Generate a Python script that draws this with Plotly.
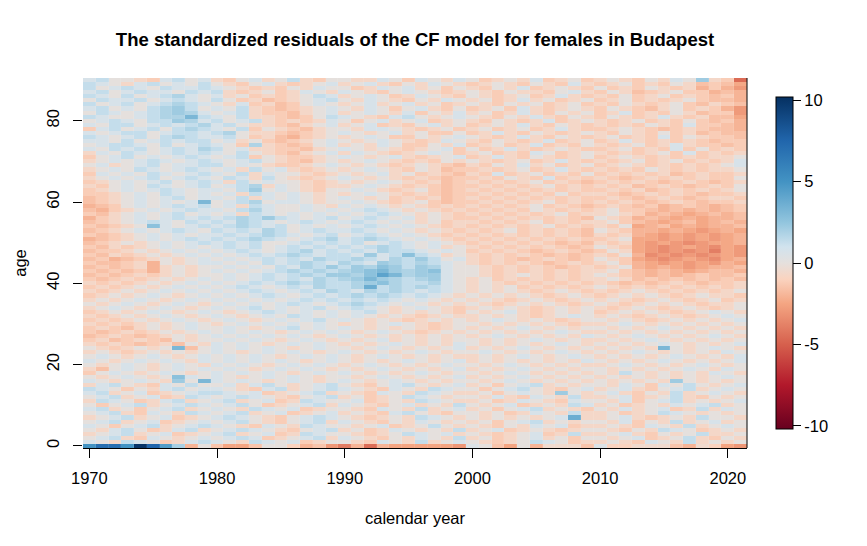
import plotly.graph_objects as go

# standardized residuals of the CF model, females, Budapest
years = list(range(1970, 2022))
ages = list(range(0, 91))

# letter code -> residual level
levels = {"D": -4.6, "E": -3.9, "F": -3.4, "G": -2.9, "H": -2.4, "I": -2.0,
          "J": -1.6, "K": -1.2, "L": -0.7, "M": 0, "N": 0.7, "O": 1.3,
          "P": 1.8, "Q": 2.2, "R": 2.7, "S": 3.2, "T": 3.7, "U": 4.2, "V": 5}

# rows listed from age 90 down to age 1, one letter per year, grouped by decade
resid_rows = [
    "NOMMLKNOMN LKMNLMOLKM MLLNMKNMLN MKLMLNKLMK LMLKMLNMQL KD",  # 90
    "ONMLNOMNMO MLKMNLKLMN LMNLKMLNML KLMLKMLKNL KLMKLKMLJK JH",
    "OMNONMONNO NMLKLKMLNM MKLNMNLMKM LKMLNKLMLK MKLKMLKLIK IG",
    "NOMNONNMON OLKLMKLNML NMLKMNMLKL MLKMLLKMNL KMLJKLMKKI JI",
    "ONMOMNOPNM NLMKLKLMON LMNMKLNMLK MLKLMKLNLK LKMKLMKLKJ KI",
    "MONNOMNONM OMKLJKLMNO MLNMLKMLNM LMKLNLMKLM KLMKLKLMKJ JI",  # 85
    "OMNOMNOPON MLNKLJKMNM LMNLMNLMKL MLKMLMKLMK LKMLKLMKJL KJ",
    "NOMNMOPQOM NMOLKJKLMN MLNMKMNLKM KLMKNLKLML KMLKJLMKLK IG",
    "MONMNOPQPN MNOLKKJLMN LMNMLNKMLN LMKLNLKMLM KLNKLKMLJK KG",
    "ONMMNOPPSO NMOLLKJKMO NMLKNOMLMN MLKMLNLKML KMLKLNLKLJ JH",
    "MNONMOOQPN OMNOLKLKLN MKMNLMNKLM LKMLKLNKLM LKLMKLKMKJ KI",  # 80
    "NMOOMNONOP NOMLLKJLMN LMNKLKMNLM KLMLNLKMLK LKLKMLKNKK JI",
    "KNOMNOMOPO NMOKMLKJLM MLNNMLKLMK LMKLMKLNLK KLMLKJKLKJ JI",
    "NMNOOMNOON OPMLLKJKLM NMLMNLMKKM KLNLKMLKLM LKMLKMKLJK JJ",
    "ONMNOMOPON NOMKLJIKLM LMNMKKMLMN MLKLNLKMLK LMKLKNKMLK KJ",
    "NNMOMNONOO MNLMKJKLMN MLMNMLKLNM LKMLKLNKLM KLNLKLKLKJ KK",  # 75
    "MNOONMOMNO NMKPLKJKMN LMLNMKKMLN KLMKLNKLKM LKLMKLNLKK JK",
    "NMONOMNONP OMNLLKKJLM NMLMLKLMNK MKLNLKLMLK KLMKLKNKMK LK",
    "LNMONMNONO NMOMLKJLMN LNMLKLMNMK LMKLKNMKLM LKLKLMKNKL KL",
    "KMNOMNMNON MNOKMLKKLM NMLMNLKLMN KLNLKMLKLM KLMLKLKLKL LM",
    "LMNMNONMNO NMNOMLKJLM LMNMLKLKML MLKLMKLNLK LKLMKLMKLK LN",  # 70
    "MNLMNOMNNO OMNMLKKLMN MLMLKLMLKJ LKMLNLMKLM KLMLKLKLKL MN",
    "LMNMONMNON MNLOMNLKLM LMNMLKMLJK KLKLMKLNLK LKLKMLKLKL LM",
    "KNMNMONMNO NMOLNMMLKL MLMNLMKLKJ LKNKLMKLKM KLKLKLJKLK KL",
    "LMNMNOMNON MONLOMLKLM NMLMLKLKJK KLKMLKNKLK LKJKLKLKLK KM",
    "KLMNMNOMNO NLOMNMMLKL MLMNMLKLJK LKLKLMKLKJ KLKLKJKLKJ KL",  # 65
    "LKMNMONMNO MNOPLNMLKL LMNMLKLKJK KLKLKLMKLK LKLJKLKJKL KM",
    "KLMNMNONMN NMOQMNMLKM MNMLKLMKJK LKLKLKLKLK KLKLJKLKLK LM",
    "KKLMNMONMN MNLONMNMLM LMNMLKLKJK KLKLKLKMKL LKJKLKLKJK KL",
    "JKLMNMNOMN NMOLNMNMLM NMLMKLKLJK LKLKLKLKLK KLKJKLKJKL LK",
    "JKLMNMNMNS MNOPMNNMLM MNMLKLMKJK KLKLKLMKLK LKLKJKLKJK KL",  # 60
    "IJKMNMNONO MNLONMMNML NMNMLMLKLK LKLKLMKLKJ KLKJKIJKJI JK",
    "JIKLMNMNON NMOPNMMNMN MNONMLMLKL KLKLKMLKLK LMKKJIJIJI JK",
    "KJLMNMNOMN MNLONMNMNM NMNONMLMLK LKLKLKLMKL LMLKIJIHIJ IJ",
    "IKLMNMNONO NOPOQONMNO MNONMNLMLK KLKLKLKLKJ MLKIJIHIHI IJ",
    "JKLMNONMON ONPONMNONM NONMNMLMKL LKLKLMKLKL LMKJIHIJHI JI",  # 55
    "KJKLMRNMNO NOPONOMNMN MNONMNMLKL KLKLKLMKLK LKMHIJHIHI IJ",
    "JKLMNMNONM ONONPOMNON NONMNMLMLK LKLMKLKLKJ MLKIIHIHGH IH",
    "KJKLMNMNMN NONOPONMNO MNONMNMLKL KLKLKLKLKJ LKLIHGHGHG HI",
    "IJKLMNMNON ONOPONMNOP NOPONMNMLK LKLKLKLKLK KLMHHGHGHG HI",
    "JKLMLMNMNO NONOMMNONO NOMNONMNML KLKLKLKJKJ LKLHGHGFGH HI",  # 50
    "KJLKLMNMNM NONOMNONON ONOPONMNLM LKLKLKLKJK MLKHGFGHGF HG",
    "JKKLMLMNMN MNONMNOPNO NONPOONMNM KLKLKJKLKJ KMLHGFGFGE HG",
    "KJLKLMLMNM NMNONOPONO ONQNORONLM LKLKLKJKJK LKMIFGFGFG HG",
    "JKIJKLMLMN MNMNONONPO OPONPOQOMN LKLKJKLKJK MLKHGFGHGF HI",
    "KJJKLIMLMN NMNMONOPON PONQPOPONM LKLKLKJKLK LMKIHGHGHG IH",  # 45
    "JKJKLILMLM MNMNMONPOQ OQPRQOQPNM MLKLKLKJKL KLMIHIHGHI IJ",
    "KJKJKILMLM NMNMNOPOPO PQRSQPQRNM MLKLKLKLKL LMKJIJIHIJ JI",
    "JKJKLKLMLM MNMNONOPOQ QPRUSPQQNM MLKLMLKLKL MLKJIJIJKJ JK",
    "KJKLKLMLMN MNMNONONPO PQSQPOPQNM LMKLKLKLKL LMLJKJKJKJ KJ",
    "LKLKLMLMNM NMNONOPOPO OPQRPOOPNM LMLKLKLKLK LKJKJKLKJK KL",  # 40
    "KLKLMLMNMN MNONMNONPO OPTOPOPONM LMLMKLKLKL MLKLKLKLKL KL",
    "LKLMLMNMNM NMNONMNONP ONPOPONONM LMLMLKLMLK LKLMLKLKLK LM",
    "KLMLMNMLMN MNMNONMNON OPOPONONML MLMLMLKLML KLMLMLKLML LK",
    "LMLMNMLMNM NMNMNMNONO NONONMNMLM LMLKLMLKLM LMLKLMLKLM KL",
    "MLMNMLMNML MNMNMNONMN OPONMNMLML MLKLMLMLKL MLKLMLMLKL LM",  # 35
    "LMNMLMNMLM NMNOMNMNOM NONMLMNMLK LMLMLKLMLM LKLMLKLMLK LM",
    "KLMLMNMLMN MLMNONMNMN MNOMLMLMLK MLMNLKLMLM KLMLMLKLMN ML",
    "LKLMLMNMLM NMLMNMONMN MNMLMLKLML LMLMLKLMNM LMLKLMLKLM NM",
    "KLKLMLMNML MNMLMNMNOM NMLMLKLMLM LMNMLMLKLM MLMLKLMLML MN",
    "LKLKLMLMNM LMNMNMNMNM LMLMNMLKLM MLMLMLMLKL LMNMLMLMLM LM",  # 30
    "KLKJLMLMNM MNMLMNOMNM NMLMLMLKLM LMLMNMLMLM MLMLMNMLML ML",
    "KJKLKLMLMN MNMNMLMNMN MLMNMLKLML MLMLMLMNML LMLMLMLMLM LM",
    "JKLKJKLMLM NMNMNMNMLM NMLMLMLMLM LMNMLMLMLN MLMNMLMLMN ML",
    "KLJKLKJMLM MNMNMLMNML MLMNLMLMLM MLMLMNMLML LMLMNMLMLM LM",
    "LKLKJKLJML NMNMLMNMNM LMLMNMLMLN MLMLMLMNML MLMLMNMLML MN",  # 25
    "MLKLMLMSJM NMNMNMLMNM MLMNMLMLMN LMLMNMLMLM LMLMLSMLMN ML",
    "LMLKLMLMLM NMLMNMNMLM NMLMLMNMLM MNMLMLMNML MLMNMLMLML NM",
    "MNMLMNMLMN MNMNMLMNMN MLMNMLMLML LMLMNMLMNM LMLMLMNMLM LN",
    "NMLMNMNMLN MNMNMNMLMN MLMLMNMLMN LMLMLMLMLN MLMLMNMLML MN",
    "MLMNMLMNML NMNMLMNMNM LMNMLMLMNM MLMNMLMLML LMNMLMLMNM LM",  # 20
    "LJMNMLMNMN MNMLMNMNML MLMNMLMLMN LMLMNMLMLM MLMLMLMNML NM",
    "KMNMLMNMLM NMNMNMLMNM NMLMLMNMLM MLMNMLMLML MLOMLMLMLN ML",
    "MLMNMLMRNM NMLMNMNMLM MLMNMLMLMN LMLMNMLMLM LMLMLMLMLM NM",
    "NMLMNMLQMS NMNMLMNMLM NMLMNMLMLM MLMNMLMLML MLMLMLQMLM LM",
    "LNOMLKNMOM MNLNOMLMNO MLKMNOMLMN LMKMNOLMLM MLNMKNMOML MN",  # 15
    "ONMKMLNOMN NMLKNOLMNO NMLKNMLONM MKMNOMLKMN LMNLKMNOLM NM",
    "NOLMNKLMNO ONMNKLMNOL MLKNMLONML LMKMNMLQML MNLKMLOLMN ML",
    "MNOLMNKLON MNONMLKMNO LMKLMONMLM MLNLKNMLOL LMNKLMOLKM LM",
    "LONMKLNOLM NOLMNKLONM MNKLMLONML LMKLNMLKNM MLNKMNOLML MN",
    "MKMNOLMNON MNOMKLMNOL NMLKMNLMLO MLMNKLMLON LMKLMLNMNO LM",  # 10
    "NOLMKMNOLM NMLONMNKLM MLKNMLOLMN LMKMNOLMLK MLNLMNKLOL NM",
    "MNOLKNMLON MNOLMNKLMN LMLKNOMLKM MLMKLNMLOL LMKLMONMLM LM",
    "LMNOLMNKLM NONMLKMNON MLKLMLONML MLMLMLMNTL LMNLKLMLOM ML",
    "MNOLMNKLMN MNOMLKMNOL NMLKMLNMLM LMKMNOLMLM MLNKMLOLMN LM",
    "NMKMNOLMNO NMLKNMLONM MLMNKLMOML MLKMLNMNKL LMLKNMLOLM NM",  # 5
    "MLNOMKLNOL MNONMLKMNO LMKLNMLMLO LMNKLMLKLM MLKMLONMKL ML",
    "LMNOLMNKLM NOLMNKLONM MLKLMONMNL MLKLMNKLOL LMNLKMLMOL LM",
    "MNOLKNMLMN MNONKLMNOL NMLKMLNMLO LMKLMNLMKM MLMNKLMOLK ML",
    "NMLONMKLNO NMLONMNKLM MLKNMLOLMN MLKLMONMKL LMLKNMLOLM LM",  # 1
]

# age 0 row, read separately (beyond the letter scale)
age0_row = [5, 7, 7, 5, 10, 7.5, 4.5, 2, -2, 0,
            -1.5, -2.5, -2.5, -1.5, 0, 0, -1, -2, -1.5, -3,
            -4, -2, -4.5, -2, -2.5, -2.5, -2.5, -2.5, -2.5, -3,
            0.5, 0, -1.5, -2.5, 0, -2, -0.5, -0.5, -0.5, -1.5,
            0.5, -1, -1, -0.5, -0.5, -0.5, -1.5, -2, -0.5, -1,
            -2.5, -3]

x_ticks = [1970, 1980, 1990, 2000, 2010, 2020]
y_ticks = [0, 20, 40, 60, 80]
cbar_ticks = [-10, -5, 0, 5, 10]


def decode(row):
    row = row.replace(" ", "")
    assert len(row) == len(years), (row, len(row))
    return [levels[c] for c in row]


z = [age0_row] + [decode(r) for r in reversed(resid_rows)]

zlim = 10.2
stops = [(-zlim, "#67001F"), (-7.5, "#B2182B"), (-5, "#D6604D"),
         (-2.5, "#F4A582"), (-1, "#FAD3BF"), (0, "#E5E0DD"),
         (1, "#D1E3EE"), (2.5, "#92C5DE"), (5, "#4393C3"),
         (7.5, "#2166AC"), (zlim, "#053061")]
colorscale = [[(v + zlim) / (2 * zlim), c] for v, c in stops]

fig = go.Figure()
fig.add_trace(go.Heatmap(
    x=years, y=ages, z=z,
    zmin=-zlim, zmax=zlim, zsmooth=False,
    xgap=0.1,  # forces the per-cell drawing, keeps cells crisp
    colorscale=colorscale,
    colorbar=dict(
        x=1.043, xanchor="left", xpad=0, y=0.5, yanchor="middle", ypad=0,
        thickness=17, len=332, lenmode="pixels",
        outlinecolor="black", outlinewidth=1,
        tickvals=cbar_ticks, ticktext=[str(t) for t in cbar_ticks],
        ticks="outside", ticklen=8, tickcolor="black",
        tickfont=dict(size=16.5, color="black"),
    ),
))

font = "Liberation Sans, Arial, sans-serif"
# page body adds an 8px offset, so the figure is 8px smaller than the window
fig.update_layout(
    width=859, height=538,
    margin=dict(l=70, r=120, t=70, b=98),
    paper_bgcolor="white", plot_bgcolor="white",
    font=dict(family=font, color="black", size=16.5),
    title=dict(text="<b>The standardized residuals of the CF model for females in Budapest</b>",
               x=0.5, xref="paper", xanchor="center", y=0.9405, yanchor="middle",
               font=dict(size=18.5, color="black")),
)
fig.update_xaxes(
    range=[1969.5, 2021.5], tickvals=x_ticks, ticks="outside", ticklen=9,
    tickcolor="black", showline=True, linecolor="black", linewidth=1,
    showgrid=False, zeroline=False, ticklabelstandoff=6,
    title=dict(text="calendar year", standoff=26, font=dict(size=16.5)),
)
fig.update_yaxes(
    range=[-0.5, 90.5], tickvals=y_ticks, ticks="outside", ticklen=9,
    tickcolor="black", tickangle=-90, showline=False,
    showgrid=False, zeroline=False, ticklabelstandoff=7,
    title=dict(text="age", standoff=13, font=dict(size=16.5)),
)
# frame on the right side of the image
fig.add_shape(type="line", xref="paper", yref="paper", x0=1, x1=1, y0=0, y1=1,
              line=dict(color="black", width=1))

fig.write_html("out.html")
